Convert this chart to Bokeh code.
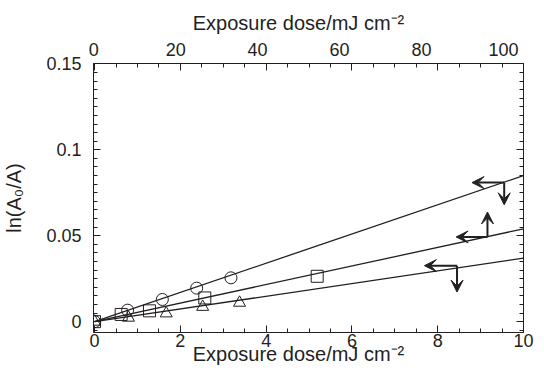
from bokeh.plotting import figure
from bokeh.layouts import column
from bokeh.models import (Range1d, LinearAxis, SingleIntervalTicker,
                          CustomJSTickFormatter, Arrow, VeeHead, Spacer)
from bokeh.embed import file_html
from bokeh.resources import INLINE

# ---- data ----
circle_x = [0, 0.77, 1.58, 2.38, 3.18]
circle_y = [0, 0.0067, 0.0129, 0.0195, 0.0255]
square_x = [0, 0.62, 1.28, 2.57, 5.19]
square_y = [0, 0.0042, 0.0063, 0.0138, 0.0264]
triangle_x = [0, 0.79, 1.67, 2.52, 3.38]
triangle_y = [0, 0.0023, 0.0048, 0.0086, 0.0110]
fit_slopes = [0.0085, 0.0054, 0.0037]
fit_x = [0, 10]

# axis-pointer arrows (corner on the line, left tip, vertical tip)
arrow_corner_x = [9.55, 9.16, 8.45]
arrow_corner_y = [0.0809, 0.0493, 0.0326]
arrow_left_x = [8.80, 8.43, 7.69]
arrow_vert_y = [0.0680, 0.0638, 0.0172]

# trailing en spaces nudge the centred axis titles left, as in the original
x_label = "Exposure dose/mJ cm\u207b\u00b2\u2002\u2002"
y_label = "ln(A\u2080/A)"

FONT = "Liberation Sans"
INK = "#231f20"

X0, X1 = -0.025, 10          # bottom axis (mJ cm-2)
Y0, Y1 = -0.0063, 0.1502
TOP_LABEL_RANGE = (-0.05, 104.9)  # top-axis numbers sit slightly left of their ticks in the original

p = figure(frame_width=430, frame_height=269,
           x_range=Range1d(X0, X1), y_range=Range1d(Y0, Y1),
           output_backend="svg", toolbar_location=None,
           x_axis_location=None, y_axis_location=None,
           min_border=0, min_border_right=12)
p.extra_x_ranges = {"top": Range1d(X0 * 10, X1 * 10),
                    "toplab": Range1d(*TOP_LABEL_RANGE)}
p.outline_line_color = None
p.grid.visible = False
p.background_fill_color = "white"
p.border_fill_color = "white"


def style(ax):
    ax.axis_line_color = INK
    ax.axis_line_width = 1
    ax.major_tick_line_color = INK
    ax.minor_tick_line_color = INK
    ax.major_tick_in = 7
    ax.major_tick_out = 0
    ax.minor_tick_in = 4
    ax.minor_tick_out = 0
    ax.major_label_text_font = FONT
    ax.major_label_text_font_size = "18px"
    ax.major_label_text_color = INK
    ax.major_label_text_line_height = 1.0
    ax.axis_label_text_font = FONT
    ax.axis_label_text_font_size = "20px"
    ax.axis_label_text_font_style = "normal"
    ax.axis_label_text_color = INK
    ax.axis_label_text_line_height = 1.0


blank = CustomJSTickFormatter(code="return '';")

bottom = LinearAxis(ticker=SingleIntervalTicker(interval=2, num_minor_ticks=4),
                    axis_label=x_label, major_label_standoff=1,
                    axis_label_standoff=-7)
top_ticks = LinearAxis(x_range_name="top",
                       ticker=SingleIntervalTicker(interval=20, num_minor_ticks=4),
                       formatter=blank, major_label_standoff=0)
top_labels = LinearAxis(x_range_name="toplab",
                        ticker=SingleIntervalTicker(interval=20, num_minor_ticks=0),
                        axis_label=x_label, major_label_standoff=8,
                        axis_label_standoff=6)
left = LinearAxis(ticker=SingleIntervalTicker(interval=0.05, num_minor_ticks=10),
                  formatter=CustomJSTickFormatter(
                      code="return tick.toFixed(2).replace(/\\.?0+$/, '');"),
                  axis_label=y_label, major_label_standoff=12,
                  axis_label_standoff=18)
right = LinearAxis(ticker=SingleIntervalTicker(interval=0.05, num_minor_ticks=10),
                   formatter=blank, major_label_standoff=12)
for ax in (bottom, top_ticks, top_labels, left, right):
    style(ax)
for ax in (right, top_ticks):
    ax.major_label_text_font_size = "0px"
top_labels.axis_line_color = None
top_labels.major_tick_line_color = None
top_labels.minor_tick_line_color = None
top_labels.major_tick_in = 0
top_labels.minor_tick_in = 0

p.add_layout(bottom, "below")
p.add_layout(top_ticks, "above")
p.add_layout(top_labels, "above")
p.add_layout(left, "left")
p.add_layout(right, "right")

# markers
mk = dict(size=12, fill_color=None, line_color=INK, line_width=1)
p.scatter(circle_x, circle_y, marker="circle", **mk)
p.scatter(square_x, square_y, marker="square", **mk)
p.scatter(triangle_x, triangle_y, marker="triangle", **mk)

# fitted lines
for s in fit_slopes:
    p.line(fit_x, [s * x for x in fit_x], line_color=INK, line_width=1.3)

# arrows
for cx, cy, lx, vy in zip(arrow_corner_x, arrow_corner_y, arrow_left_x, arrow_vert_y):
    p.add_layout(Arrow(x_start=cx, y_start=cy, x_end=lx, y_end=cy,
                       line_color=INK, line_width=2,
                       end=VeeHead(size=12, fill_color=INK, line_color=INK)))
    p.add_layout(Arrow(x_start=cx, y_start=cy, x_end=cx, y_end=vy,
                       line_color=INK, line_width=2,
                       end=VeeHead(size=12, fill_color=INK, line_color=INK)))

layout = column(Spacer(width=10, height=8), p)
open("out.html", "w").write(file_html(layout, INLINE))
